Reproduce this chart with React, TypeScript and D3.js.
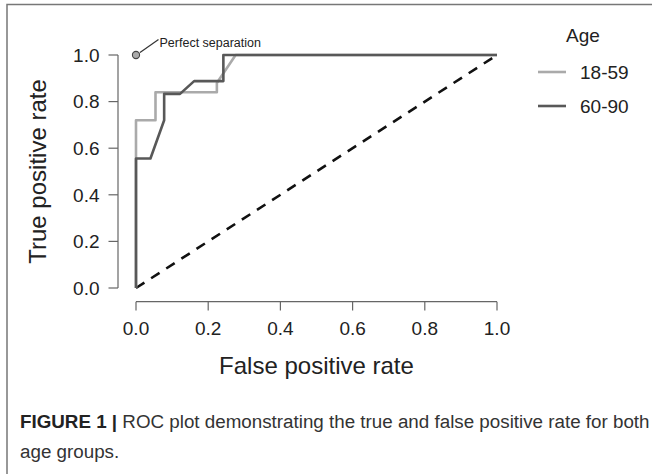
import React, { useEffect } from 'react';
import * as d3 from 'd3';

// ROC points (false positive rate, true positive rate)
const fpr1859 = [0, 0, 0.054, 0.054, 0.224, 0.224, 0.276, 1];
const tpr1859 = [0, 0.72, 0.72, 0.84, 0.84, 0.88, 1, 1];
const fpr6090 = [0, 0, 0.04, 0.078, 0.078, 0.122, 0.161, 0.242, 0.242, 1];
const tpr6090 = [0, 0.556, 0.556, 0.72, 0.833, 0.833, 0.888, 0.888, 1, 1];
const chanceLine = [0, 1];
const ticks = [0, 0.2, 0.4, 0.6, 0.8, 1.0];
const groups = ['18-59', '60-90'];
const groupColors = ['#aaaaaa', '#585858'];

const W = 659;
const H = 474;
const font = 'Liberation Sans, Arial, Helvetica, sans-serif';

const App: React.FC = () => {
  useEffect(() => {
    document.body.style.margin = '0';
  }, []);

  const x = d3.scaleLinear().domain([0, 1]).range([136, 497]);
  const y = d3.scaleLinear().domain([0, 1]).range([288, 55]);

  const line = d3.line<[number, number]>()
    .x(d => x(d[0]))
    .y(d => y(d[1]));

  const series = [
    fpr1859.map((v, i) => [v, tpr1859[i]] as [number, number]),
    fpr6090.map((v, i) => [v, tpr6090[i]] as [number, number]),
  ];
  const diag = chanceLine.map(v => [v, v] as [number, number]);

  const axisColor = '#666';

  return (
    <svg width={W} height={H} style={{ display: 'block', position: 'absolute', left: 0, top: 0 }} fontFamily={font}>
      <rect x={0} y={0} width={W} height={H} fill="#fff" />
      {/* figure frame */}
      <path d={`M7,${H} V4.5 H652`} fill="none" stroke="#777" strokeWidth={1.5} />

      {/* y axis */}
      <line x1={118} x2={118} y1={y(0)} y2={y(1)} stroke={axisColor} strokeWidth={1.2} />
      {ticks.map(t => (
        <g key={'y' + t}>
          <line x1={108.5} x2={118} y1={y(t)} y2={y(t)} stroke={axisColor} strokeWidth={1.2} />
          <text x={99.5} y={y(t)} dy="0.36em" textAnchor="end" fontSize={19} fill="#222">{t.toFixed(1)}</text>
        </g>
      ))}

      {/* x axis */}
      <line x1={x(0)} x2={x(1)} y1={301.7} y2={301.7} stroke={axisColor} strokeWidth={1.2} />
      {ticks.map(t => (
        <g key={'x' + t}>
          <line x1={x(t)} x2={x(t)} y1={301.7} y2={310.5} stroke={axisColor} strokeWidth={1.2} />
          <text x={x(t)} y={335} textAnchor="middle" fontSize={19} fill="#222">{t.toFixed(1)}</text>
        </g>
      ))}

      <text x={(x(0) + x(1)) / 2} y={374} textAnchor="middle" fontSize={24} fill="#222">False positive rate</text>
      <text transform={`translate(46,${(y(0) + y(1)) / 2}) rotate(-90)`} textAnchor="middle" fontSize={24} fill="#222">True positive rate</text>

      {/* chance line */}
      <path d={line(diag) || ''} fill="none" stroke="#111" strokeWidth={2.6} strokeDasharray="10 8" />

      {/* ROC curves */}
      {series.map((s, i) => (
        <path key={groups[i]} d={line(s) || ''} fill="none" stroke={groupColors[i]} strokeWidth={2.6} strokeLinejoin="round" />
      ))}

      {/* perfect separation marker */}
      <circle cx={x(0)} cy={y(1)} r={3.6} fill="#aaa" stroke="#444" strokeWidth={1.1} />
      <line x1={x(0) + 4} x2={158.5} y1={y(1) - 2.5} y2={39.5} stroke="#333" strokeWidth={1.2} />
      <text x={159.5} y={47} fontSize={12.5} fill="#222">Perfect separation</text>

      {/* legend */}
      <text x={583} y={41.5} textAnchor="middle" fontSize={19} fill="#222">Age</text>
      {groups.map((g, i) => (
        <g key={'leg' + g}>
          <line x1={538} x2={566} y1={72 + i * 34} y2={72 + i * 34} stroke={groupColors[i]} strokeWidth={2.6} />
          <text x={580} y={79 + i * 34} fontSize={19} fill="#222">{g}</text>
        </g>
      ))}

      {/* caption */}
      <text x={20} y={428} fontSize={18.8} fill="#333">
        <tspan fontWeight="bold" fill="#222">FIGURE 1</tspan>
        <tspan fontWeight="bold" fill="#222"> | </tspan>
        <tspan>ROC plot demonstrating the true and false positive rate for both</tspan>
      </text>
      <text x={20} y={458} fontSize={18.8} fill="#333">age groups.</text>
    </svg>
  );
};

export default App;
